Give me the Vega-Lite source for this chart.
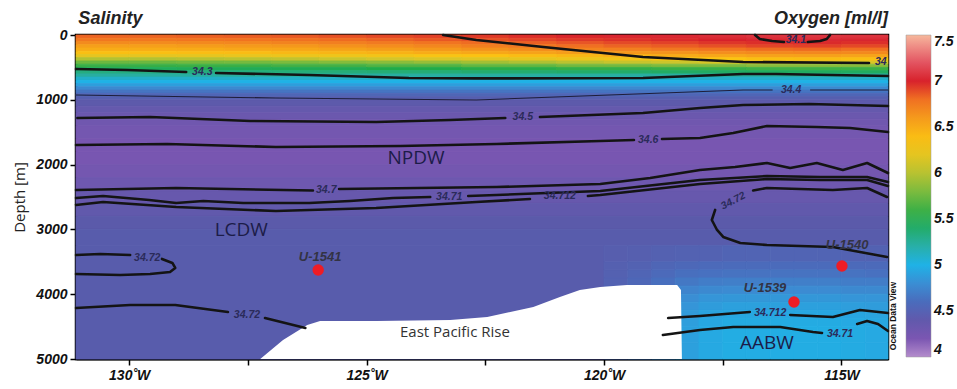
{
"$schema": "https://vega.github.io/schema/vega-lite/v6.json",
"width": 812, "height": 324,
"autosize": {"type": "none"},
"padding": {"left": 76, "top": 35, "right": 69, "bottom": 30},
"background": "white",
"config": {
 "view": {"stroke": "#000", "strokeWidth": 2.5},
 "axis": {"grid": false, "domainColor": "#000", "domainWidth": 2, "tickColor": "#000", "tickWidth": 1.5, "tickSize": 6,
  "labelFont": "Liberation Sans", "labelFontStyle": "italic", "labelFontWeight": "bold", "labelFontSize": 14, "labelColor": "#111"}
},
"datasets": {
 "cells": [
  {"x1":-131.12,"x2":-130,"d1":0,"d2":50,"ox":6.83},{"x1":-130,"x2":-129,"d1":0,"d2":50,"ox":6.83},{"x1":-129,"x2":-128,"d1":0,"d2":50,"ox":6.84},{"x1":-128,"x2":-127,"d1":0,"d2":50,"ox":6.85},{"x1":-127,"x2":-126,"d1":0,"d2":50,"ox":6.86},{"x1":-126,"x2":-125,"d1":0,"d2":50,"ox":6.88},{"x1":-125,"x2":-124,"d1":0,"d2":50,"ox":6.90},{"x1":-124,"x2":-123,"d1":0,"d2":50,"ox":6.92},{"x1":-123,"x2":-122,"d1":0,"d2":50,"ox":6.94},{"x1":-122,"x2":-121,"d1":0,"d2":50,"ox":6.97},{"x1":-121,"x2":-120,"d1":0,"d2":50,"ox":6.99},{"x1":-120,"x2":-119,"d1":0,"d2":50,"ox":7.02},{"x1":-119,"x2":-118,"d1":0,"d2":50,"ox":7.03},{"x1":-118,"x2":-117,"d1":0,"d2":50,"ox":7.05},{"x1":-117,"x2":-116,"d1":0,"d2":50,"ox":7.07},{"x1":-116,"x2":-115,"d1":0,"d2":50,"ox":7.08},{"x1":-115,"x2":-114.02,"d1":0,"d2":50,"ox":7.07},
  {"x1":-131.12,"x2":-130,"d1":50,"d2":100,"ox":6.76},{"x1":-130,"x2":-129,"d1":50,"d2":100,"ox":6.76},{"x1":-129,"x2":-128,"d1":50,"d2":100,"ox":6.77},{"x1":-128,"x2":-127,"d1":50,"d2":100,"ox":6.78},{"x1":-127,"x2":-126,"d1":50,"d2":100,"ox":6.79},{"x1":-126,"x2":-125,"d1":50,"d2":100,"ox":6.81},{"x1":-125,"x2":-124,"d1":50,"d2":100,"ox":6.83},{"x1":-124,"x2":-123,"d1":50,"d2":100,"ox":6.86},{"x1":-123,"x2":-122,"d1":50,"d2":100,"ox":6.88},{"x1":-122,"x2":-121,"d1":50,"d2":100,"ox":6.91},{"x1":-121,"x2":-120,"d1":50,"d2":100,"ox":6.94},{"x1":-120,"x2":-119,"d1":50,"d2":100,"ox":6.96},{"x1":-119,"x2":-118,"d1":50,"d2":100,"ox":6.98},{"x1":-118,"x2":-117,"d1":50,"d2":100,"ox":7.00},{"x1":-117,"x2":-116,"d1":50,"d2":100,"ox":7.02},{"x1":-116,"x2":-115,"d1":50,"d2":100,"ox":7.03},{"x1":-115,"x2":-114.02,"d1":50,"d2":100,"ox":7.02},
  {"x1":-131.12,"x2":-130,"d1":100,"d2":150,"ox":6.67},{"x1":-130,"x2":-129,"d1":100,"d2":150,"ox":6.67},{"x1":-129,"x2":-128,"d1":100,"d2":150,"ox":6.68},{"x1":-128,"x2":-127,"d1":100,"d2":150,"ox":6.69},{"x1":-127,"x2":-126,"d1":100,"d2":150,"ox":6.71},{"x1":-126,"x2":-125,"d1":100,"d2":150,"ox":6.73},{"x1":-125,"x2":-124,"d1":100,"d2":150,"ox":6.75},{"x1":-124,"x2":-123,"d1":100,"d2":150,"ox":6.78},{"x1":-123,"x2":-122,"d1":100,"d2":150,"ox":6.81},{"x1":-122,"x2":-121,"d1":100,"d2":150,"ox":6.84},{"x1":-121,"x2":-120,"d1":100,"d2":150,"ox":6.87},{"x1":-120,"x2":-119,"d1":100,"d2":150,"ox":6.90},{"x1":-119,"x2":-118,"d1":100,"d2":150,"ox":6.92},{"x1":-118,"x2":-117,"d1":100,"d2":150,"ox":6.95},{"x1":-117,"x2":-116,"d1":100,"d2":150,"ox":6.97},{"x1":-116,"x2":-115,"d1":100,"d2":150,"ox":6.98},{"x1":-115,"x2":-114.02,"d1":100,"d2":150,"ox":6.97},
  {"x1":-131.12,"x2":-130,"d1":150,"d2":200,"ox":6.57},{"x1":-130,"x2":-129,"d1":150,"d2":200,"ox":6.57},{"x1":-129,"x2":-128,"d1":150,"d2":200,"ox":6.58},{"x1":-128,"x2":-127,"d1":150,"d2":200,"ox":6.60},{"x1":-127,"x2":-126,"d1":150,"d2":200,"ox":6.61},{"x1":-126,"x2":-125,"d1":150,"d2":200,"ox":6.64},{"x1":-125,"x2":-124,"d1":150,"d2":200,"ox":6.66},{"x1":-124,"x2":-123,"d1":150,"d2":200,"ox":6.69},{"x1":-123,"x2":-122,"d1":150,"d2":200,"ox":6.73},{"x1":-122,"x2":-121,"d1":150,"d2":200,"ox":6.76},{"x1":-121,"x2":-120,"d1":150,"d2":200,"ox":6.80},{"x1":-120,"x2":-119,"d1":150,"d2":200,"ox":6.83},{"x1":-119,"x2":-118,"d1":150,"d2":200,"ox":6.85},{"x1":-118,"x2":-117,"d1":150,"d2":200,"ox":6.88},{"x1":-117,"x2":-116,"d1":150,"d2":200,"ox":6.91},{"x1":-116,"x2":-115,"d1":150,"d2":200,"ox":6.92},{"x1":-115,"x2":-114.02,"d1":150,"d2":200,"ox":6.90},
  {"x1":-131.12,"x2":-130,"d1":200,"d2":250,"ox":6.49},{"x1":-130,"x2":-129,"d1":200,"d2":250,"ox":6.49},{"x1":-129,"x2":-128,"d1":200,"d2":250,"ox":6.50},{"x1":-128,"x2":-127,"d1":200,"d2":250,"ox":6.52},{"x1":-127,"x2":-126,"d1":200,"d2":250,"ox":6.53},{"x1":-126,"x2":-125,"d1":200,"d2":250,"ox":6.55},{"x1":-125,"x2":-124,"d1":200,"d2":250,"ox":6.58},{"x1":-124,"x2":-123,"d1":200,"d2":250,"ox":6.61},{"x1":-123,"x2":-122,"d1":200,"d2":250,"ox":6.64},{"x1":-122,"x2":-121,"d1":200,"d2":250,"ox":6.67},{"x1":-121,"x2":-120,"d1":200,"d2":250,"ox":6.71},{"x1":-120,"x2":-119,"d1":200,"d2":250,"ox":6.73},{"x1":-119,"x2":-118,"d1":200,"d2":250,"ox":6.76},{"x1":-118,"x2":-117,"d1":200,"d2":250,"ox":6.78},{"x1":-117,"x2":-116,"d1":200,"d2":250,"ox":6.81},{"x1":-116,"x2":-115,"d1":200,"d2":250,"ox":6.82},{"x1":-115,"x2":-114.02,"d1":200,"d2":250,"ox":6.80},
  {"x1":-131.12,"x2":-130,"d1":250,"d2":300,"ox":6.38},{"x1":-130,"x2":-129,"d1":250,"d2":300,"ox":6.38},{"x1":-129,"x2":-128,"d1":250,"d2":300,"ox":6.39},{"x1":-128,"x2":-127,"d1":250,"d2":300,"ox":6.40},{"x1":-127,"x2":-126,"d1":250,"d2":300,"ox":6.42},{"x1":-126,"x2":-125,"d1":250,"d2":300,"ox":6.44},{"x1":-125,"x2":-124,"d1":250,"d2":300,"ox":6.46},{"x1":-124,"x2":-123,"d1":250,"d2":300,"ox":6.49},{"x1":-123,"x2":-122,"d1":250,"d2":300,"ox":6.52},{"x1":-122,"x2":-121,"d1":250,"d2":300,"ox":6.55},{"x1":-121,"x2":-120,"d1":250,"d2":300,"ox":6.58},{"x1":-120,"x2":-119,"d1":250,"d2":300,"ox":6.61},{"x1":-119,"x2":-118,"d1":250,"d2":300,"ox":6.63},{"x1":-118,"x2":-117,"d1":250,"d2":300,"ox":6.66},{"x1":-117,"x2":-116,"d1":250,"d2":300,"ox":6.68},{"x1":-116,"x2":-115,"d1":250,"d2":300,"ox":6.69},{"x1":-115,"x2":-114.02,"d1":250,"d2":300,"ox":6.68},
  {"x1":-131.12,"x2":-130,"d1":300,"d2":350,"ox":6.20},{"x1":-130,"x2":-129,"d1":300,"d2":350,"ox":6.20},{"x1":-129,"x2":-128,"d1":300,"d2":350,"ox":6.21},{"x1":-128,"x2":-127,"d1":300,"d2":350,"ox":6.23},{"x1":-127,"x2":-126,"d1":300,"d2":350,"ox":6.25},{"x1":-126,"x2":-125,"d1":300,"d2":350,"ox":6.27},{"x1":-125,"x2":-124,"d1":300,"d2":350,"ox":6.29},{"x1":-124,"x2":-123,"d1":300,"d2":350,"ox":6.33},{"x1":-123,"x2":-122,"d1":300,"d2":350,"ox":6.36},{"x1":-122,"x2":-121,"d1":300,"d2":350,"ox":6.40},{"x1":-121,"x2":-120,"d1":300,"d2":350,"ox":6.43},{"x1":-120,"x2":-119,"d1":300,"d2":350,"ox":6.47},{"x1":-119,"x2":-118,"d1":300,"d2":350,"ox":6.49},{"x1":-118,"x2":-117,"d1":300,"d2":350,"ox":6.52},{"x1":-117,"x2":-116,"d1":300,"d2":350,"ox":6.55},{"x1":-116,"x2":-115,"d1":300,"d2":350,"ox":6.56},{"x1":-115,"x2":-114.02,"d1":300,"d2":350,"ox":6.54},
  {"x1":-131.12,"x2":-130,"d1":350,"d2":400,"ox":5.98},{"x1":-130,"x2":-129,"d1":350,"d2":400,"ox":5.98},{"x1":-129,"x2":-128,"d1":350,"d2":400,"ox":6.00},{"x1":-128,"x2":-127,"d1":350,"d2":400,"ox":6.01},{"x1":-127,"x2":-126,"d1":350,"d2":400,"ox":6.03},{"x1":-126,"x2":-125,"d1":350,"d2":400,"ox":6.06},{"x1":-125,"x2":-124,"d1":350,"d2":400,"ox":6.09},{"x1":-124,"x2":-123,"d1":350,"d2":400,"ox":6.13},{"x1":-123,"x2":-122,"d1":350,"d2":400,"ox":6.17},{"x1":-122,"x2":-121,"d1":350,"d2":400,"ox":6.21},{"x1":-121,"x2":-120,"d1":350,"d2":400,"ox":6.25},{"x1":-120,"x2":-119,"d1":350,"d2":400,"ox":6.29},{"x1":-119,"x2":-118,"d1":350,"d2":400,"ox":6.32},{"x1":-118,"x2":-117,"d1":350,"d2":400,"ox":6.35},{"x1":-117,"x2":-116,"d1":350,"d2":400,"ox":6.38},{"x1":-116,"x2":-115,"d1":350,"d2":400,"ox":6.40},{"x1":-115,"x2":-114.02,"d1":350,"d2":400,"ox":6.38},
  {"x1":-131.12,"x2":-130,"d1":400,"d2":450,"ox":5.75},{"x1":-130,"x2":-129,"d1":400,"d2":450,"ox":5.75},{"x1":-129,"x2":-128,"d1":400,"d2":450,"ox":5.77},{"x1":-128,"x2":-127,"d1":400,"d2":450,"ox":5.78},{"x1":-127,"x2":-126,"d1":400,"d2":450,"ox":5.80},{"x1":-126,"x2":-125,"d1":400,"d2":450,"ox":5.83},{"x1":-125,"x2":-124,"d1":400,"d2":450,"ox":5.85},{"x1":-124,"x2":-123,"d1":400,"d2":450,"ox":5.89},{"x1":-123,"x2":-122,"d1":400,"d2":450,"ox":5.93},{"x1":-122,"x2":-121,"d1":400,"d2":450,"ox":5.97},{"x1":-121,"x2":-120,"d1":400,"d2":450,"ox":6.01},{"x1":-120,"x2":-119,"d1":400,"d2":450,"ox":6.05},{"x1":-119,"x2":-118,"d1":400,"d2":450,"ox":6.07},{"x1":-118,"x2":-117,"d1":400,"d2":450,"ox":6.11},{"x1":-117,"x2":-116,"d1":400,"d2":450,"ox":6.13},{"x1":-116,"x2":-115,"d1":400,"d2":450,"ox":6.15},{"x1":-115,"x2":-114.02,"d1":400,"d2":450,"ox":6.13},
  {"x1":-131.12,"x2":-129,"d1":450,"d2":500,"ox":5.58},{"x1":-129,"x2":-127,"d1":450,"d2":500,"ox":5.59},{"x1":-127,"x2":-125,"d1":450,"d2":500,"ox":5.62},{"x1":-125,"x2":-123,"d1":450,"d2":500,"ox":5.66},{"x1":-123,"x2":-121,"d1":450,"d2":500,"ox":5.72},{"x1":-121,"x2":-119,"d1":450,"d2":500,"ox":5.77},{"x1":-119,"x2":-117,"d1":450,"d2":500,"ox":5.81},{"x1":-117,"x2":-115,"d1":450,"d2":500,"ox":5.85},{"x1":-115,"x2":-114.02,"d1":450,"d2":500,"ox":5.84},
  {"x1":-131.12,"x2":-129,"d1":500,"d2":550,"ox":5.45},{"x1":-129,"x2":-127,"d1":500,"d2":550,"ox":5.46},{"x1":-127,"x2":-125,"d1":500,"d2":550,"ox":5.47},{"x1":-125,"x2":-123,"d1":500,"d2":550,"ox":5.50},{"x1":-123,"x2":-121,"d1":500,"d2":550,"ox":5.53},{"x1":-121,"x2":-119,"d1":500,"d2":550,"ox":5.56},{"x1":-119,"x2":-117,"d1":500,"d2":550,"ox":5.58},{"x1":-117,"x2":-115,"d1":500,"d2":550,"ox":5.60},{"x1":-115,"x2":-114.02,"d1":500,"d2":550,"ox":5.59},
  {"x1":-131.12,"x2":-129,"d1":550,"d2":600,"ox":5.33},{"x1":-129,"x2":-127,"d1":550,"d2":600,"ox":5.34},{"x1":-127,"x2":-125,"d1":550,"d2":600,"ox":5.35},{"x1":-125,"x2":-123,"d1":550,"d2":600,"ox":5.36},{"x1":-123,"x2":-121,"d1":550,"d2":600,"ox":5.38},{"x1":-121,"x2":-119,"d1":550,"d2":600,"ox":5.40},{"x1":-119,"x2":-117,"d1":550,"d2":600,"ox":5.42},{"x1":-117,"x2":-115,"d1":550,"d2":600,"ox":5.43},{"x1":-115,"x2":-114.02,"d1":550,"d2":600,"ox":5.43},
  {"x1":-131.12,"x2":-114.02,"d1":600,"d2":650,"ox":5.23},
  {"x1":-131.12,"x2":-114.02,"d1":650,"d2":700,"ox":5.10},
  {"x1":-131.12,"x2":-114.02,"d1":700,"d2":750,"ox":5.00},
  {"x1":-131.12,"x2":-114.02,"d1":750,"d2":800,"ox":4.89},
  {"x1":-131.12,"x2":-114.02,"d1":800,"d2":850,"ox":4.77},
  {"x1":-131.12,"x2":-114.02,"d1":850,"d2":900,"ox":4.65},
  {"x1":-131.12,"x2":-114.02,"d1":900,"d2":950,"ox":4.55},
  {"x1":-131.12,"x2":-114.02,"d1":950,"d2":1000,"ox":4.49},
  {"x1":-131.12,"x2":-114.02,"d1":1000,"d2":1100,"ox":4.43},
  {"x1":-131.12,"x2":-114.02,"d1":1100,"d2":1200,"ox":4.37},
  {"x1":-131.12,"x2":-114.02,"d1":1200,"d2":1300,"ox":4.32},
  {"x1":-131.12,"x2":-114.02,"d1":1300,"d2":1400,"ox":4.28},
  {"x1":-131.12,"x2":-114.02,"d1":1400,"d2":1600,"ox":4.25},
  {"x1":-131.12,"x2":-114.02,"d1":1600,"d2":1800,"ox":4.22},
  {"x1":-131.12,"x2":-114.02,"d1":1800,"d2":2000,"ox":4.22},
  {"x1":-131.12,"x2":-114.02,"d1":2000,"d2":2200,"ox":4.25},
  {"x1":-131.12,"x2":-114.02,"d1":2200,"d2":2400,"ox":4.30},
  {"x1":-131.12,"x2":-114.02,"d1":2400,"d2":2600,"ox":4.35},
  {"x1":-131.12,"x2":-114.02,"d1":2600,"d2":2800,"ox":4.40},
  {"x1":-131.12,"x2":-114.02,"d1":2800,"d2":3000,"ox":4.44},
  {"x1":-131.12,"x2":-114.02,"d1":3000,"d2":3250,"ox":4.47},
  {"x1":-131.12,"x2":-120,"d1":3250,"d2":5000,"ox":4.47},
  {"x1":-120,"x2":-119.5,"d1":3250,"d2":3500,"ox":4.48},{"x1":-119.5,"x2":-119,"d1":3250,"d2":3500,"ox":4.49},{"x1":-119,"x2":-118.5,"d1":3250,"d2":3500,"ox":4.51},{"x1":-118.5,"x2":-118,"d1":3250,"d2":3500,"ox":4.52},{"x1":-118,"x2":-117.5,"d1":3250,"d2":3500,"ox":4.52},{"x1":-117.5,"x2":-117,"d1":3250,"d2":3500,"ox":4.53},{"x1":-117,"x2":-116.5,"d1":3250,"d2":3500,"ox":4.53},{"x1":-116.5,"x2":-116,"d1":3250,"d2":3500,"ox":4.53},{"x1":-116,"x2":-115.5,"d1":3250,"d2":3500,"ox":4.53},{"x1":-115.5,"x2":-115,"d1":3250,"d2":3500,"ox":4.53},{"x1":-115,"x2":-114.5,"d1":3250,"d2":3500,"ox":4.52},{"x1":-114.5,"x2":-114.02,"d1":3250,"d2":3500,"ox":4.52},
  {"x1":-120,"x2":-119.5,"d1":3500,"d2":3625,"ox":4.50},{"x1":-119.5,"x2":-119,"d1":3500,"d2":3625,"ox":4.52},{"x1":-119,"x2":-118.5,"d1":3500,"d2":3625,"ox":4.55},{"x1":-118.5,"x2":-118,"d1":3500,"d2":3625,"ox":4.57},{"x1":-118,"x2":-117.5,"d1":3500,"d2":3625,"ox":4.58},{"x1":-117.5,"x2":-117,"d1":3500,"d2":3625,"ox":4.59},{"x1":-117,"x2":-116.5,"d1":3500,"d2":3625,"ox":4.59},{"x1":-116.5,"x2":-116,"d1":3500,"d2":3625,"ox":4.59},{"x1":-116,"x2":-115.5,"d1":3500,"d2":3625,"ox":4.59},{"x1":-115.5,"x2":-115,"d1":3500,"d2":3625,"ox":4.59},{"x1":-115,"x2":-114.5,"d1":3500,"d2":3625,"ox":4.58},{"x1":-114.5,"x2":-114.02,"d1":3500,"d2":3625,"ox":4.58},
  {"x1":-120,"x2":-119.5,"d1":3625,"d2":3750,"ox":4.51},{"x1":-119.5,"x2":-119,"d1":3625,"d2":3750,"ox":4.54},{"x1":-119,"x2":-118.5,"d1":3625,"d2":3750,"ox":4.58},{"x1":-118.5,"x2":-118,"d1":3625,"d2":3750,"ox":4.62},{"x1":-118,"x2":-117.5,"d1":3625,"d2":3750,"ox":4.63},{"x1":-117.5,"x2":-117,"d1":3625,"d2":3750,"ox":4.64},{"x1":-117,"x2":-116.5,"d1":3625,"d2":3750,"ox":4.64},{"x1":-116.5,"x2":-116,"d1":3625,"d2":3750,"ox":4.64},{"x1":-116,"x2":-115.5,"d1":3625,"d2":3750,"ox":4.64},{"x1":-115.5,"x2":-115,"d1":3625,"d2":3750,"ox":4.64},{"x1":-115,"x2":-114.5,"d1":3625,"d2":3750,"ox":4.64},{"x1":-114.5,"x2":-114.02,"d1":3625,"d2":3750,"ox":4.63},
  {"x1":-120,"x2":-119.5,"d1":3750,"d2":3875,"ox":4.52},{"x1":-119.5,"x2":-119,"d1":3750,"d2":3875,"ox":4.56},{"x1":-119,"x2":-118.5,"d1":3750,"d2":3875,"ox":4.62},{"x1":-118.5,"x2":-118,"d1":3750,"d2":3875,"ox":4.67},{"x1":-118,"x2":-117.5,"d1":3750,"d2":3875,"ox":4.70},{"x1":-117.5,"x2":-117,"d1":3750,"d2":3875,"ox":4.71},{"x1":-117,"x2":-116.5,"d1":3750,"d2":3875,"ox":4.71},{"x1":-116.5,"x2":-116,"d1":3750,"d2":3875,"ox":4.71},{"x1":-116,"x2":-115.5,"d1":3750,"d2":3875,"ox":4.71},{"x1":-115.5,"x2":-115,"d1":3750,"d2":3875,"ox":4.71},{"x1":-115,"x2":-114.5,"d1":3750,"d2":3875,"ox":4.70},{"x1":-114.5,"x2":-114.02,"d1":3750,"d2":3875,"ox":4.70},
  {"x1":-120,"x2":-119.5,"d1":3875,"d2":4000,"ox":4.54},{"x1":-119.5,"x2":-119,"d1":3875,"d2":4000,"ox":4.59},{"x1":-119,"x2":-118.5,"d1":3875,"d2":4000,"ox":4.67},{"x1":-118.5,"x2":-118,"d1":3875,"d2":4000,"ox":4.74},{"x1":-118,"x2":-117.5,"d1":3875,"d2":4000,"ox":4.77},{"x1":-117.5,"x2":-117,"d1":3875,"d2":4000,"ox":4.78},{"x1":-117,"x2":-116.5,"d1":3875,"d2":4000,"ox":4.78},{"x1":-116.5,"x2":-116,"d1":3875,"d2":4000,"ox":4.78},{"x1":-116,"x2":-115.5,"d1":3875,"d2":4000,"ox":4.78},{"x1":-115.5,"x2":-115,"d1":3875,"d2":4000,"ox":4.78},{"x1":-115,"x2":-114.5,"d1":3875,"d2":4000,"ox":4.77},{"x1":-114.5,"x2":-114.02,"d1":3875,"d2":4000,"ox":4.77},
  {"x1":-120,"x2":-119.5,"d1":4000,"d2":4125,"ox":4.55},{"x1":-119.5,"x2":-119,"d1":4000,"d2":4125,"ox":4.62},{"x1":-119,"x2":-118.5,"d1":4000,"d2":4125,"ox":4.72},{"x1":-118.5,"x2":-118,"d1":4000,"d2":4125,"ox":4.80},{"x1":-118,"x2":-117.5,"d1":4000,"d2":4125,"ox":4.84},{"x1":-117.5,"x2":-117,"d1":4000,"d2":4125,"ox":4.85},{"x1":-117,"x2":-116.5,"d1":4000,"d2":4125,"ox":4.85},{"x1":-116.5,"x2":-116,"d1":4000,"d2":4125,"ox":4.85},{"x1":-116,"x2":-115.5,"d1":4000,"d2":4125,"ox":4.85},{"x1":-115.5,"x2":-115,"d1":4000,"d2":4125,"ox":4.85},{"x1":-115,"x2":-114.5,"d1":4000,"d2":4125,"ox":4.84},{"x1":-114.5,"x2":-114.02,"d1":4000,"d2":4125,"ox":4.84},
  {"x1":-120,"x2":-119.5,"d1":4125,"d2":4250,"ox":4.57},{"x1":-119.5,"x2":-119,"d1":4125,"d2":4250,"ox":4.64},{"x1":-119,"x2":-118.5,"d1":4125,"d2":4250,"ox":4.75},{"x1":-118.5,"x2":-118,"d1":4125,"d2":4250,"ox":4.84},{"x1":-118,"x2":-117.5,"d1":4125,"d2":4250,"ox":4.88},{"x1":-117.5,"x2":-117,"d1":4125,"d2":4250,"ox":4.90},{"x1":-117,"x2":-116.5,"d1":4125,"d2":4250,"ox":4.90},{"x1":-116.5,"x2":-116,"d1":4125,"d2":4250,"ox":4.90},{"x1":-116,"x2":-115.5,"d1":4125,"d2":4250,"ox":4.90},{"x1":-115.5,"x2":-115,"d1":4125,"d2":4250,"ox":4.90},{"x1":-115,"x2":-114.5,"d1":4125,"d2":4250,"ox":4.89},{"x1":-114.5,"x2":-114.02,"d1":4125,"d2":4250,"ox":4.88},
  {"x1":-120,"x2":-119.5,"d1":4250,"d2":4375,"ox":4.57},{"x1":-119.5,"x2":-119,"d1":4250,"d2":4375,"ox":4.66},{"x1":-119,"x2":-118.5,"d1":4250,"d2":4375,"ox":4.77},{"x1":-118.5,"x2":-118,"d1":4250,"d2":4375,"ox":4.87},{"x1":-118,"x2":-117.5,"d1":4250,"d2":4375,"ox":4.92},{"x1":-117.5,"x2":-117,"d1":4250,"d2":4375,"ox":4.94},{"x1":-117,"x2":-116.5,"d1":4250,"d2":4375,"ox":4.94},{"x1":-116.5,"x2":-116,"d1":4250,"d2":4375,"ox":4.94},{"x1":-116,"x2":-115.5,"d1":4250,"d2":4375,"ox":4.94},{"x1":-115.5,"x2":-115,"d1":4250,"d2":4375,"ox":4.94},{"x1":-115,"x2":-114.5,"d1":4250,"d2":4375,"ox":4.93},{"x1":-114.5,"x2":-114.02,"d1":4250,"d2":4375,"ox":4.92},
  {"x1":-120,"x2":-119.5,"d1":4375,"d2":4500,"ox":4.58},{"x1":-119.5,"x2":-119,"d1":4375,"d2":4500,"ox":4.66},{"x1":-119,"x2":-118.5,"d1":4375,"d2":4500,"ox":4.79},{"x1":-118.5,"x2":-118,"d1":4375,"d2":4500,"ox":4.89},{"x1":-118,"x2":-117.5,"d1":4375,"d2":4500,"ox":4.94},{"x1":-117.5,"x2":-117,"d1":4375,"d2":4500,"ox":4.96},{"x1":-117,"x2":-116.5,"d1":4375,"d2":4500,"ox":4.96},{"x1":-116.5,"x2":-116,"d1":4375,"d2":4500,"ox":4.96},{"x1":-116,"x2":-115.5,"d1":4375,"d2":4500,"ox":4.96},{"x1":-115.5,"x2":-115,"d1":4375,"d2":4500,"ox":4.96},{"x1":-115,"x2":-114.5,"d1":4375,"d2":4500,"ox":4.95},{"x1":-114.5,"x2":-114.02,"d1":4375,"d2":4500,"ox":4.94},
  {"x1":-120,"x2":-119.5,"d1":4500,"d2":4750,"ox":4.58},{"x1":-119.5,"x2":-119,"d1":4500,"d2":4750,"ox":4.67},{"x1":-119,"x2":-118.5,"d1":4500,"d2":4750,"ox":4.80},{"x1":-118.5,"x2":-118,"d1":4500,"d2":4750,"ox":4.90},{"x1":-118,"x2":-117.5,"d1":4500,"d2":4750,"ox":4.95},{"x1":-117.5,"x2":-117,"d1":4500,"d2":4750,"ox":4.97},{"x1":-117,"x2":-116.5,"d1":4500,"d2":4750,"ox":4.97},{"x1":-116.5,"x2":-116,"d1":4500,"d2":4750,"ox":4.97},{"x1":-116,"x2":-115.5,"d1":4500,"d2":4750,"ox":4.97},{"x1":-115.5,"x2":-115,"d1":4500,"d2":4750,"ox":4.97},{"x1":-115,"x2":-114.5,"d1":4500,"d2":4750,"ox":4.96},{"x1":-114.5,"x2":-114.02,"d1":4500,"d2":4750,"ox":4.95},
  {"x1":-120,"x2":-119.5,"d1":4750,"d2":5000,"ox":4.58},{"x1":-119.5,"x2":-119,"d1":4750,"d2":5000,"ox":4.67},{"x1":-119,"x2":-118.5,"d1":4750,"d2":5000,"ox":4.80},{"x1":-118.5,"x2":-118,"d1":4750,"d2":5000,"ox":4.90},{"x1":-118,"x2":-117.5,"d1":4750,"d2":5000,"ox":4.95},{"x1":-117.5,"x2":-117,"d1":4750,"d2":5000,"ox":4.97},{"x1":-117,"x2":-116.5,"d1":4750,"d2":5000,"ox":4.97},{"x1":-116.5,"x2":-116,"d1":4750,"d2":5000,"ox":4.97},{"x1":-116,"x2":-115.5,"d1":4750,"d2":5000,"ox":4.97},{"x1":-115.5,"x2":-115,"d1":4750,"d2":5000,"ox":4.97},{"x1":-115,"x2":-114.5,"d1":4750,"d2":5000,"ox":4.96},{"x1":-114.5,"x2":-114.02,"d1":4750,"d2":5000,"ox":4.95}
 ],
 "floor": [
  {"lon":-127.24,"d":5000},{"lon":-126.76,"d":4707},{"lon":-126.25,"d":4475},{"lon":-125.98,"d":4414},{"lon":-124.78,"d":4414},{"lon":-123.24,"d":4398},{"lon":-122.46,"d":4352},{"lon":-121.49,"d":4198},{"lon":-120.93,"d":4043},{"lon":-120.51,"d":3935},{"lon":-120.08,"d":3889},{"lon":-119.52,"d":3858},{"lon":-118.46,"d":3858},{"lon":-118.38,"d":3935},{"lon":-118.36,"d":5000}
 ],
 "cont": [
  {"seg":"s3a","lon":-131.12,"d":525},{"seg":"s3a","lon":-130.04,"d":540},{"seg":"s3a","lon":-128.8,"d":571},
  {"seg":"s3b","lon":-128.17,"d":586},{"seg":"s3b","lon":-126.21,"d":617},{"seg":"s3b","lon":-124.11,"d":664},{"seg":"s3b","lon":-122.69,"d":670},{"seg":"s3b","lon":-119.18,"d":664},{"seg":"s3b","lon":-117.07,"d":602},{"seg":"s3b","lon":-116.38,"d":602},{"seg":"s3b","lon":-114.02,"d":633},
  {"seg":"s34","lon":-123.39,"d":0},{"seg":"s34","lon":-122.69,"d":77},{"seg":"s34","lon":-121.28,"d":185},{"seg":"s34","lon":-119.18,"d":339},{"seg":"s34","lon":-117.07,"d":417},{"seg":"s34","lon":-114.42,"d":432},
  {"seg":"s341a","lon":-116.82,"d":0},{"seg":"s341a","lon":-116.72,"d":62},{"seg":"s341a","lon":-116.46,"d":93},{"seg":"s341a","lon":-116.21,"d":108},
  {"seg":"s341b","lon":-115.71,"d":108},{"seg":"s341b","lon":-115.45,"d":93},{"seg":"s341b","lon":-115.31,"d":62},{"seg":"s341b","lon":-115.24,"d":0},
  {"seg":"s345a","lon":-131.09,"d":1281},{"seg":"s345a","lon":-129.56,"d":1265},{"seg":"s345a","lon":-127.45,"d":1327},{"seg":"s345a","lon":-124.8,"d":1343},{"seg":"s345a","lon":-123.24,"d":1312},{"seg":"s345a","lon":-122.08,"d":1281},
  {"seg":"s345b","lon":-121.35,"d":1265},{"seg":"s345b","lon":-119.18,"d":1204},{"seg":"s345b","lon":-117.98,"d":1127},{"seg":"s345b","lon":-117.07,"d":1080},{"seg":"s345b","lon":-115.68,"d":1065},{"seg":"s345b","lon":-114.02,"d":1096},
  {"seg":"s346a","lon":-131.12,"d":1697},{"seg":"s346a","lon":-129.2,"d":1682},{"seg":"s346a","lon":-126.91,"d":1728},{"seg":"s346a","lon":-124.29,"d":1713},{"seg":"s346a","lon":-122.27,"d":1682},{"seg":"s346a","lon":-120.08,"d":1636},{"seg":"s346a","lon":-119.37,"d":1620},
  {"seg":"s346b","lon":-118.78,"d":1605},{"seg":"s346b","lon":-117.98,"d":1589},{"seg":"s346b","lon":-117.28,"d":1512},{"seg":"s346b","lon":-116.57,"d":1404},{"seg":"s346b","lon":-115.52,"d":1420},{"seg":"s346b","lon":-114.82,"d":1435},{"seg":"s346b","lon":-114.02,"d":1497},
  {"seg":"s347a","lon":-131.12,"d":2392},{"seg":"s347a","lon":-129.01,"d":2361},{"seg":"s347a","lon":-126.13,"d":2400},
  {"seg":"s347b","lon":-125.58,"d":2376},{"seg":"s347b","lon":-122.27,"d":2346},{"seg":"s347b","lon":-120.08,"d":2299},{"seg":"s347b","lon":-119.03,"d":2207},{"seg":"s347b","lon":-117.98,"d":2083},{"seg":"s347b","lon":-117.24,"d":2037},{"seg":"s347b","lon":-116.57,"d":1975},{"seg":"s347b","lon":-116.08,"d":2052},{"seg":"s347b","lon":-115.52,"d":1975},{"seg":"s347b","lon":-114.97,"d":2083},{"seg":"s347b","lon":-114.46,"d":1975},{"seg":"s347b","lon":-114.02,"d":2130},
  {"seg":"s3471a","lon":-131.12,"d":2515},{"seg":"s3471a","lon":-130.55,"d":2484},{"seg":"s3471a","lon":-129.58,"d":2546},{"seg":"s3471a","lon":-129.01,"d":2592},{"seg":"s3471a","lon":-128.44,"d":2561},{"seg":"s3471a","lon":-127.6,"d":2592},{"seg":"s3471a","lon":-126.21,"d":2592},{"seg":"s3471a","lon":-125.35,"d":2561},{"seg":"s3471a","lon":-124.44,"d":2515},{"seg":"s3471a","lon":-123.66,"d":2500},
  {"seg":"s3471b","lon":-122.86,"d":2484},{"seg":"s3471b","lon":-122.27,"d":2469},{"seg":"s3471b","lon":-120.93,"d":2430},{"seg":"s3471b","lon":-120.08,"d":2407},{"seg":"s3471b","lon":-117.98,"d":2238},{"seg":"s3471b","lon":-116.57,"d":2176},{"seg":"s3471b","lon":-115.45,"d":2191},{"seg":"s3471b","lon":-114.46,"d":2191},{"seg":"s3471b","lon":-114.02,"d":2268},
  {"seg":"s34712a","lon":-131.12,"d":2623},{"seg":"s34712a","lon":-130.55,"d":2577},{"seg":"s34712a","lon":-129.01,"d":2654},{"seg":"s34712a","lon":-126.91,"d":2716},{"seg":"s34712a","lon":-124.8,"d":2669},{"seg":"s34712a","lon":-122.69,"d":2577},{"seg":"s34712a","lon":-121.56,"d":2531},
  {"seg":"s34712b","lon":-120.34,"d":2484},{"seg":"s34712b","lon":-120.08,"d":2469},{"seg":"s34712b","lon":-117.98,"d":2299},{"seg":"s34712b","lon":-116.57,"d":2222},{"seg":"s34712b","lon":-115.45,"d":2238},{"seg":"s34712b","lon":-114.46,"d":2238},{"seg":"s34712b","lon":-114.02,"d":2330},
  {"seg":"r72a","lon":-114.04,"d":2500},{"seg":"r72a","lon":-114.46,"d":2361},{"seg":"r72a","lon":-115.18,"d":2392},{"seg":"r72a","lon":-116.57,"d":2361},{"seg":"r72a","lon":-116.86,"d":2400},
  {"seg":"r72b","lon":-117.66,"d":2700},{"seg":"r72b","lon":-117.73,"d":2855},{"seg":"r72b","lon":-117.62,"d":3009},{"seg":"r72b","lon":-117.49,"d":3117},{"seg":"r72b","lon":-117.13,"d":3210},{"seg":"r72b","lon":-116.57,"d":3240},{"seg":"r72b","lon":-115.18,"d":3271},{"seg":"r72b","lon":-114.61,"d":3348},{"seg":"r72b","lon":-114.04,"d":3426},
  {"seg":"l72a","lon":-131.12,"d":3395},{"seg":"l72a","lon":-130.61,"d":3379},{"seg":"l72a","lon":-129.98,"d":3395},
  {"seg":"l72b","lon":-129.31,"d":3456},{"seg":"l72b","lon":-129.09,"d":3518},{"seg":"l72b","lon":-129.03,"d":3595},{"seg":"l72b","lon":-129.14,"d":3657},{"seg":"l72b","lon":-129.56,"d":3688},{"seg":"l72b","lon":-130.19,"d":3703},{"seg":"l72b","lon":-131.12,"d":3688},
  {"seg":"b72a","lon":-131.12,"d":4213},{"seg":"b72a","lon":-129.98,"d":4166},{"seg":"b72a","lon":-129.03,"d":4166},{"seg":"b72a","lon":-127.92,"d":4274},
  {"seg":"b72b","lon":-127.14,"d":4367},{"seg":"b72b","lon":-126.29,"d":4521},
  {"seg":"r712a","lon":-118.65,"d":4367},{"seg":"r712a","lon":-117.98,"d":4336},{"seg":"r712a","lon":-116.93,"d":4274},
  {"seg":"r712b","lon":-116.08,"d":4320},{"seg":"r712b","lon":-115.18,"d":4351},{"seg":"r712b","lon":-114.61,"d":4243},{"seg":"r712b","lon":-114.02,"d":4290},
  {"seg":"r71a","lon":-118.76,"d":4629},{"seg":"r71a","lon":-117.98,"d":4552},{"seg":"r71a","lon":-117.28,"d":4506},{"seg":"r71a","lon":-116.29,"d":4506},{"seg":"r71a","lon":-115.6,"d":4583},{"seg":"r71a","lon":-115.41,"d":4598},
  {"seg":"r71b","lon":-114.67,"d":4459},{"seg":"r71b","lon":-114.46,"d":4413},{"seg":"r71b","lon":-114.23,"d":4459},{"seg":"r71b","lon":-114.02,"d":4568}
 ],
 "thin": [
  {"seg":"t1","lon":-131.12,"d":926},{"seg":"t1","lon":-126.91,"d":972},{"seg":"t1","lon":-122.69,"d":1003},{"seg":"t1","lon":-119.89,"d":926},{"seg":"t1","lon":-117.07,"d":849},{"seg":"t1","lon":-116.45,"d":849},
  {"seg":"t2","lon":-115.66,"d":849},{"seg":"t2","lon":-114.02,"d":849}
 ],
 "clabels": [
  {"t":"34.3","lon":-128.46,"d":571},{"t":"34","lon":-114.17,"d":420},{"t":"34.1","lon":-115.96,"d":80},{"t":"34.4","lon":-116.06,"d":849},{"t":"34.5","lon":-121.71,"d":1265},{"t":"34.6","lon":-119.07,"d":1620},{"t":"34.7","lon":-125.85,"d":2392},{"t":"34.71","lon":-123.26,"d":2500},{"t":"34.712","lon":-120.93,"d":2484},{"t":"34.72","lon":-129.62,"d":3441},{"t":"34.72","lon":-127.52,"d":4320},{"t":"34.712","lon":-116.5,"d":4290},{"t":"34.71","lon":-115.03,"d":4614}
 ],
 "clabelsrot": [{"t":"34.72","lon":-117.28,"d":2562}],
 "masses": [{"t":"NPDW","lon":-123.96,"d":1898},{"t":"LCDW","lon":-127.64,"d":3009},{"t":"AABW","lon":-116.57,"d":4753}],
 "rise": [{"t":"East Pacific Rise","lon":-123.14,"d":4583}],
 "stations": [{"site":"U-1541","lon":-126.02,"d":3627},{"site":"U-1540","lon":-114.99,"d":3565},{"site":"U-1539","lon":-116.0,"d":4120}],
 "slabels": [{"t":"U-1541","lon":-125.98,"d":3426},{"t":"U-1540","lon":-114.88,"d":3240},{"t":"U-1539","lon":-116.61,"d":3904}],
 "tleft": [{"t":"Salinity","lon":-131.07,"d":-170}],
 "tright": [{"t":"Oxygen [ml/l]","lon":-114.02,"d":-170}],
 "odv": [{"t":"Ocean Data View","lon":-113.92,"d":4336}]
},
"layer": [
 {"data": {"name": "cells"}, "mark": {"type": "rect", "strokeWidth": 0.8, "stroke": {"expr": "scale('color', datum.ox)"}},
  "encoding": {
   "x": {"field": "x1", "type": "quantitative", "title": null, "scale": {"domain": [-131.12, -114.02], "nice": false, "zero": false},
    "axis": {"values": [-130, -127.5, -125, -122.5, -120, -117.5, -115], "labelExpr": "datum.value % 5 == 0 ? (datum.value == -115 ? '115W' : abs(datum.value) + '˚W') : ''", "title": null, "labelPadding": 3}},
   "x2": {"field": "x2"},
   "y": {"field": "d1", "type": "quantitative", "title": "Depth [m]", "scale": {"domain": [0, 5000], "reverse": true, "nice": false, "zero": false},
    "axis": {"values": [0, 500, 1000, 1500, 2000, 2500, 3000, 3500, 4000, 4500, 5000], "labelExpr": "datum.value % 1000 == 0 ? '' + datum.value : ''", "title": "Depth [m]", "titleFont": "Open Sans", "titleFontSize": 15, "titleFontWeight": "normal", "titleColor": "#222", "titlePadding": 8, "labelPadding": 3}},
   "y2": {"field": "d2"},
   "color": {"field": "ox", "type": "quantitative",
    "scale": {"domain": [4, 4.2, 4.45, 4.6, 4.8, 5, 5.25, 5.5, 5.8, 6.1, 6.35, 6.6, 6.8, 7, 7.25, 7.5], "range": ["#b48ccc", "#7b56b2", "#5a5aaa", "#4a6cbc", "#3a8ed4", "#1fb2e6", "#2aae9a", "#1fab4a", "#7cbb3e", "#d6c62a", "#fbc412", "#f59a1c", "#f07022", "#d8222c", "#e6606e", "#f6b89c"], "interpolate": "rgb"},
    "legend": {"type": "gradient", "orient": "none", "legendX": 830, "legendY": 0, "direction": "vertical", "gradientLength": 322, "gradientThickness": 25, "values": [4, 4.5, 5, 5.5, 6, 6.5, 7, 7.5], "labelExpr": "'' + datum.value", "title": null, "labelFont": "Liberation Sans", "labelFontStyle": "italic", "labelFontWeight": "bold", "labelFontSize": 14, "labelColor": "#111", "labelOffset": 3, "gradientStrokeColor": "#999", "gradientStrokeWidth": 0.5, "labelOverlap": false}}
  }},
 {"data": {"name": "floor"}, "mark": {"type": "area", "color": "#ffffff", "opacity": 1},
  "encoding": {
   "x": {"field": "lon", "type": "quantitative", "title": null},
   "y": {"field": "d", "type": "quantitative", "title": "Depth [m]"},
   "y2": {"datum": 5000}
  }},
 {"data": {"name": "cont"}, "mark": {"type": "line", "color": "#141414", "strokeWidth": 2.6, "strokeCap": "round", "strokeJoin": "round"},
  "encoding": {
   "x": {"field": "lon", "type": "quantitative", "title": null},
   "y": {"field": "d", "type": "quantitative", "title": "Depth [m]"},
   "detail": {"field": "seg"},
   "order": {"value": null}
  }},
 {"data": {"name": "thin"}, "mark": {"type": "line", "color": "#1e1e3a", "strokeWidth": 1.1},
  "encoding": {
   "x": {"field": "lon", "type": "quantitative", "title": null},
   "y": {"field": "d", "type": "quantitative", "title": "Depth [m]"},
   "detail": {"field": "seg"},
   "order": {"value": null}
  }},
 {"data": {"name": "clabels"}, "mark": {"type": "text", "font": "Liberation Sans", "fontStyle": "italic", "fontWeight": "bold", "fontSize": 10.5, "color": "#2b2b5a", "baseline": "middle", "align": "center"},
  "encoding": {
   "x": {"field": "lon", "type": "quantitative", "title": null},
   "y": {"field": "d", "type": "quantitative", "title": "Depth [m]"},
   "text": {"field": "t"}
  }},
 {"data": {"name": "clabelsrot"}, "mark": {"type": "text", "font": "Liberation Sans", "fontStyle": "italic", "fontWeight": "bold", "fontSize": 10.5, "color": "#2b2b5a", "baseline": "middle", "align": "center", "angle": 332},
  "encoding": {
   "x": {"field": "lon", "type": "quantitative", "title": null},
   "y": {"field": "d", "type": "quantitative", "title": "Depth [m]"},
   "text": {"field": "t"}
  }},
 {"data": {"name": "masses"}, "mark": {"type": "text", "font": "Open Sans", "fontSize": 19, "color": "#1c1c48", "baseline": "middle", "align": "center"},
  "encoding": {
   "x": {"field": "lon", "type": "quantitative", "title": null},
   "y": {"field": "d", "type": "quantitative", "title": "Depth [m]"},
   "text": {"field": "t"}
  }},
 {"data": {"name": "rise"}, "mark": {"type": "text", "font": "Open Sans", "fontSize": 15, "color": "#333333", "baseline": "middle", "align": "center"},
  "encoding": {
   "x": {"field": "lon", "type": "quantitative", "title": null},
   "y": {"field": "d", "type": "quantitative", "title": "Depth [m]"},
   "text": {"field": "t"}
  }},
 {"data": {"name": "stations"}, "mark": {"type": "point", "filled": true, "color": "#ee1c25", "opacity": 1, "size": 130},
  "encoding": {
   "x": {"field": "lon", "type": "quantitative", "title": null},
   "y": {"field": "d", "type": "quantitative", "title": "Depth [m]"}
  }},
 {"data": {"name": "slabels"}, "mark": {"type": "text", "font": "Liberation Sans", "fontStyle": "italic", "fontWeight": "bold", "fontSize": 13, "color": "#333344", "baseline": "middle", "align": "center"},
  "encoding": {
   "x": {"field": "lon", "type": "quantitative", "title": null},
   "y": {"field": "d", "type": "quantitative", "title": "Depth [m]"},
   "text": {"field": "t"}
  }},
 {"data": {"name": "tleft"}, "mark": {"type": "text", "font": "Liberation Sans", "fontStyle": "italic", "fontWeight": "bold", "fontSize": 18, "color": "#222222", "baseline": "alphabetic", "align": "left"},
  "encoding": {
   "x": {"field": "lon", "type": "quantitative", "title": null},
   "y": {"field": "d", "type": "quantitative", "title": "Depth [m]"},
   "text": {"field": "t"}
  }},
 {"data": {"name": "tright"}, "mark": {"type": "text", "font": "Liberation Sans", "fontStyle": "italic", "fontWeight": "bold", "fontSize": 18, "color": "#222222", "baseline": "alphabetic", "align": "right"},
  "encoding": {
   "x": {"field": "lon", "type": "quantitative", "title": null},
   "y": {"field": "d", "type": "quantitative", "title": "Depth [m]"},
   "text": {"field": "t"}
  }},
 {"data": {"name": "odv"}, "mark": {"type": "text", "font": "Liberation Sans", "fontWeight": "bold", "fontSize": 8.5, "color": "#111111", "baseline": "middle", "align": "center", "angle": 270},
  "encoding": {
   "x": {"field": "lon", "type": "quantitative", "title": null},
   "y": {"field": "d", "type": "quantitative", "title": "Depth [m]"},
   "text": {"field": "t"}
  }}
]
}
